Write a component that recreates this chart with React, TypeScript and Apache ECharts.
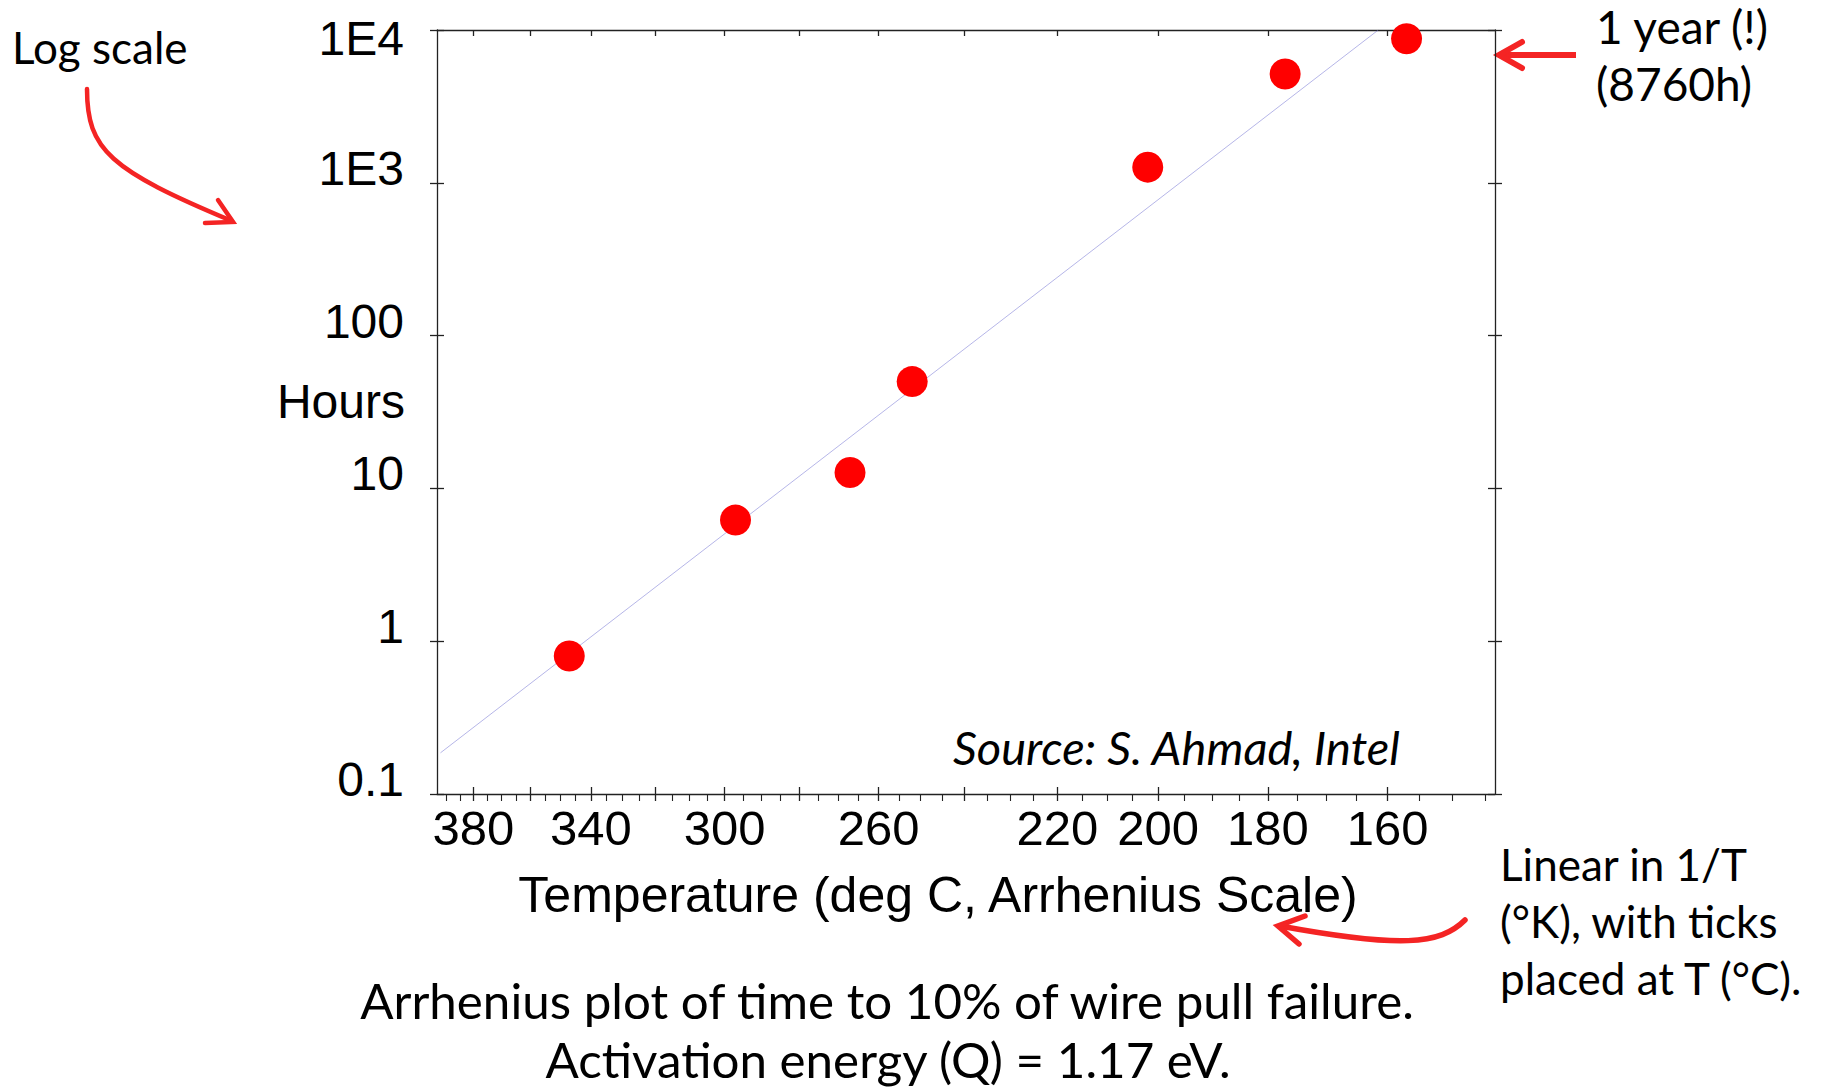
import React, { useEffect, useRef } from "react";
import * as echarts from "echarts";

// Wire-pull failure data: test temperature (deg C) and hours to 10% failure
const tempC = [347, 297, 267, 252, 202, 177, 157];
const hours = [0.8, 6.2, 12.7, 50, 1265, 5150, 8760];

// Arrhenius fit line (end points)
const fitTempC = [392.2, 161.5];
const fitHours = [0.186, 10000];

// Temperature axis: labelled, major and minor tick positions (deg C)
const labelTempsC = [380, 340, 300, 260, 220, 200, 180, 160];
const majorTempsC = [380, 360, 340, 320, 300, 280, 260, 240, 220, 200, 180, 160];
const minorTempsC = [
  390, 385, 375, 370, 365, 355, 350, 345, 335, 330, 325, 315, 310, 305, 295, 290,
  285, 275, 270, 265, 255, 250, 245, 235, 230, 225, 215, 210, 205, 195, 190, 185,
  175, 170, 165, 155, 150, 145,
];

// Hours axis labels, one per decade from 0.1 to 1E4
const yTickLabels = ["0.1", "1", "10", "100", "1E3", "1E4"];

// Horizontal axis range in 1000/K
const invKRange = [1.5, 2.4];

const toInvK = (c: number) => 1000 / (c + 273.15);
const toC = (u: number) => Math.round(1000 / u - 273.15);

const AXIS_FONT = "Liberation Sans";
const NOTE_FONT = "Lato";
const AXIS_COLOR = "#222";
const ARROW_RED = "#f42424";

export default function App() {
  const ref = useRef<HTMLDivElement>(null);

  useEffect(() => {
    if (!ref.current) return;
    const chart = echarts.init(ref.current, undefined, { renderer: "svg" });

    const baseX = {
      type: "value" as const,
      min: invKRange[0],
      max: invKRange[1],
      splitLine: { show: false },
    };
    const baseY = {
      type: "log" as const,
      logBase: 10,
      min: 0.1,
      max: 10000,
      splitLine: { show: false },
    };

    const noteText = (
      text: string,
      x: number,
      y: number,
      size: number,
      align: "left" | "center" | "right" = "left",
      extra: Record<string, unknown> = {}
    ) => ({
      type: "text",
      x,
      y,
      style: {
        text,
        fontFamily: NOTE_FONT,
        fontSize: size,
        fill: "#000",
        align,
        verticalAlign: "middle",
        ...extra,
      },
    });

    chart.setOption({
      animation: false,
      backgroundColor: "#fff",
      grid: { left: 437, top: 30, width: 1058, height: 764, containLabel: false },
      xAxis: [
        {
          ...baseX,
          position: "bottom",
          axisLine: { show: true, lineStyle: { color: AXIS_COLOR, width: 1.3 } },
          axisTick: {
            show: true,
            length: 7,
            inside: false,
            customValues: majorTempsC.map(toInvK),
            lineStyle: { color: AXIS_COLOR, width: 1.3 },
          },
          axisLabel: {
            show: true,
            customValues: labelTempsC.map(toInvK),
            formatter: (v: number) => String(toC(v)),
            fontFamily: AXIS_FONT,
            fontSize: 49,
            color: "#000",
            margin: 9,
          },
        },
        {
          ...baseX,
          position: "bottom",
          axisLine: { show: false },
          axisTick: {
            show: true,
            length: 7,
            inside: true,
            customValues: majorTempsC.map(toInvK),
            lineStyle: { color: AXIS_COLOR, width: 1.3 },
          },
          axisLabel: { show: false },
        },
        {
          ...baseX,
          position: "bottom",
          axisLine: { show: false },
          axisTick: {
            show: true,
            length: 7,
            inside: false,
            customValues: minorTempsC.map(toInvK),
            lineStyle: { color: AXIS_COLOR, width: 1.1 },
          },
          axisLabel: { show: false },
        },
        {
          ...baseX,
          position: "top",
          axisLine: { show: true, lineStyle: { color: AXIS_COLOR, width: 1.3 } },
          axisTick: {
            show: true,
            length: 6,
            inside: true,
            customValues: majorTempsC.map(toInvK),
            lineStyle: { color: AXIS_COLOR, width: 1.3 },
          },
          axisLabel: { show: false },
        },
      ],
      yAxis: [
        {
          ...baseY,
          position: "left",
          axisLine: { show: true, lineStyle: { color: AXIS_COLOR, width: 1.3 } },
          axisTick: { show: true, length: 7, inside: false, lineStyle: { color: AXIS_COLOR, width: 1.3 } },
          axisLabel: {
            show: true,
            margin: 33,
            formatter: (v: number) => {
              const i = Math.round(Math.log10(v)) + 1;
              const t = yTickLabels[i];
              return i === yTickLabels.length - 1 ? `{t|${t}}` : `{n|${t}}`;
            },
            rich: {
              n: { fontFamily: AXIS_FONT, fontSize: 48, color: "#000", padding: [0, 0, 29, 0] },
              t: { fontFamily: AXIS_FONT, fontSize: 48, color: "#000", padding: [17, 0, 0, 0] },
            },
          },
        },
        {
          ...baseY,
          position: "left",
          axisLine: { show: false },
          axisTick: { show: true, length: 7, inside: true, lineStyle: { color: AXIS_COLOR, width: 1.3 } },
          axisLabel: { show: false },
        },
        {
          ...baseY,
          position: "right",
          axisLine: { show: true, lineStyle: { color: AXIS_COLOR, width: 1.3 } },
          axisTick: { show: true, length: 7, inside: false, lineStyle: { color: AXIS_COLOR, width: 1.3 } },
          axisLabel: { show: false },
        },
        {
          ...baseY,
          position: "right",
          axisLine: { show: false },
          axisTick: { show: true, length: 7, inside: true, lineStyle: { color: AXIS_COLOR, width: 1.3 } },
          axisLabel: { show: false },
        },
      ],
      series: [
        {
          name: "Arrhenius fit",
          type: "line",
          xAxisIndex: 0,
          yAxisIndex: 0,
          data: fitTempC.map((c, i) => [toInvK(c), fitHours[i]]),
          showSymbol: false,
          symbol: "none",
          lineStyle: { color: "rgba(110, 110, 210, 0.5)", width: 1 },
          z: 2,
        },
        {
          name: "Time to 10% failure",
          type: "scatter",
          xAxisIndex: 0,
          yAxisIndex: 0,
          data: tempC.map((c, i) => [toInvK(c), hours[i]]),
          symbol: "circle",
          symbolSize: 31,
          itemStyle: { color: "#ff0000", opacity: 1 },
          z: 3,
        },
      ],
      graphic: [
        // axis titles
        {
          type: "text",
          x: 405,
          y: 401,
          style: {
            text: "Hours",
            fontFamily: AXIS_FONT,
            fontSize: 48,
            fill: "#000",
            align: "right",
            verticalAlign: "middle",
          },
        },
        {
          type: "text",
          x: 938,
          y: 895,
          style: {
            text: "Temperature (deg C, Arrhenius Scale)",
            fontFamily: AXIS_FONT,
            fontSize: 50,
            fill: "#000",
            align: "center",
            verticalAlign: "middle",
          },
        },
        // source credit inside the plot
        noteText("Source: S. Ahmad, Intel", 953, 747, 47, "left", { fontStyle: "italic" }),
        // annotations
        noteText("Log scale", 12, 47, 44),
        noteText("1 year (!)", 1596, 26, 46),
        noteText("(8760h)", 1596, 83, 46),
        noteText("Linear in 1/T", 1500, 864, 44),
        noteText("(\u00b0K), with ticks", 1500, 921, 44),
        noteText("placed at T (\u00b0C).", 1500, 978, 44),
        noteText("Arrhenius plot of time to 10% of wire pull failure.", 887, 1000, 49.3, "center"),
        noteText("Activation energy (Q) = 1.17 eV.", 888, 1059, 49.3, "center"),
        // arrow to the log axis
        {
          type: "bezierCurve",
          shape: { x1: 87, y1: 89, cpx1: 87, cpy1: 150, cpx2: 110, cpy2: 170, x2: 232, y2: 221 },
          style: { stroke: ARROW_RED, lineWidth: 4.5, fill: null, lineCap: "round" },
        },
        {
          type: "polyline",
          shape: { points: [[218, 200], [233, 222], [205, 223]] },
          style: { stroke: ARROW_RED, lineWidth: 4.5, fill: null, lineCap: "round", lineJoin: "miter" },
        },
        // arrow to the top point
        {
          type: "line",
          shape: { x1: 1576, y1: 55, x2: 1500, y2: 55 },
          style: { stroke: ARROW_RED, lineWidth: 6 },
        },
        {
          type: "polyline",
          shape: { points: [[1522, 42], [1499, 55], [1522, 68]] },
          style: { stroke: ARROW_RED, lineWidth: 6, fill: null, lineCap: "round", lineJoin: "miter" },
        },
        // arrow to the temperature axis title
        {
          type: "bezierCurve",
          shape: { x1: 1465, y1: 920, cpx1: 1440, cpy1: 945, cpx2: 1400, cpy2: 948, x2: 1280, y2: 926 },
          style: { stroke: ARROW_RED, lineWidth: 5.5, fill: null, lineCap: "round" },
        },
        {
          type: "polyline",
          shape: { points: [[1305, 916], [1278, 926], [1299, 944]] },
          style: { stroke: ARROW_RED, lineWidth: 5.5, fill: null, lineCap: "round", lineJoin: "miter" },
        },
      ],
    });

    return () => chart.dispose();
  }, []);

  return (
    <div
      ref={ref}
      style={{ position: "absolute", left: 0, top: 0, width: 1823, height: 1091, background: "#fff" }}
    />
  );
}
